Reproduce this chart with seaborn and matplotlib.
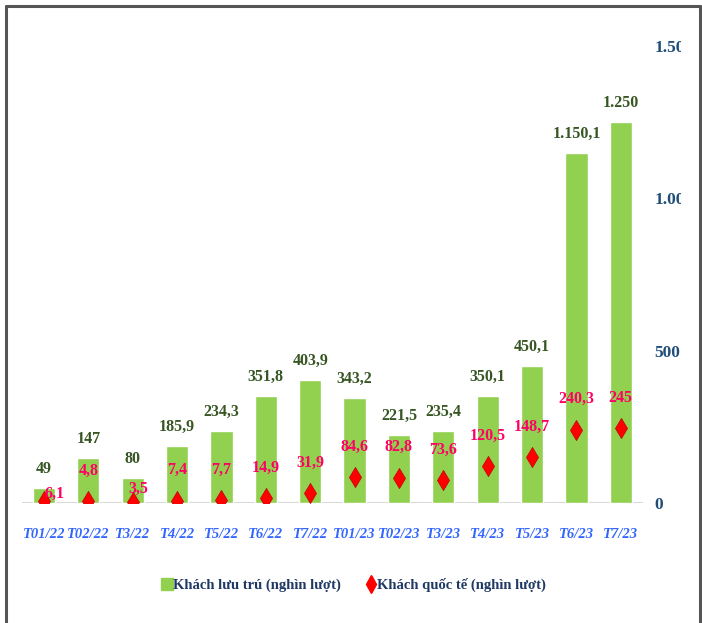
#!/usr/bin/env python3
"""
Khách lưu trú vs khách quốc tế theo tháng (nghìn lượt).
"""
import numpy as np
import pandas as pd
import matplotlib.pyplot as plt
import seaborn as sns
from matplotlib.lines import Line2D
from matplotlib.transforms import Bbox, TransformedBbox

months = ['T01/22', 'T02/22', 'T3/22', 'T4/22', 'T5/22', 'T6/22', 'T7/22',
          'T01/23', 'T02/23', 'T3/23', 'T4/23', 'T5/23', 'T6/23', 'T7/23']
luu_tru = [49, 147, 80, 185.9, 234.3, 351.8, 403.9,
           343.2, 221.5, 235.4, 350.1, 450.1, 1150.1, 1250]
quoc_te = [6.1, 4.8, 3.5, 7.4, 7.7, 14.9, 31.9,
           84.6, 82.8, 73.6, 120.5, 148.7, 240.3, 245]
yticks = [0, 500, 1000, 1500]


def vn(v):
    """Vietnamese number format: 1.150,1"""
    if float(v).is_integer():
        s = f"{int(v):,}".replace(',', '.')
    else:
        s = f"{v:,.1f}".replace(',', 'X').replace('.', ',').replace('X', '.')
    return s


def main():
    sns.set_theme(style='white')
    plt.rcParams['font.family'] = ['Liberation Serif', 'DejaVu Serif']

    df = pd.DataFrame({'thang': months, 'luu_tru': luu_tru, 'quoc_te': quoc_te})

    fig = plt.figure(figsize=(7.02, 6.23), dpi=100)
    ax = fig.add_axes([0.031, 0.193, 0.885, 0.733])

    GREEN = '#92D050'
    sns.barplot(data=df, x='thang', y='luu_tru', color=GREEN, width=0.5,
                saturation=1, ax=ax, zorder=2)
    sns.scatterplot(data=df, x='thang', y='quoc_te', marker='d', s=105,
                    color='#FF0000', edgecolor='#C00000', linewidth=0.5,
                    ax=ax, zorder=3)

    ax.set_xlim(-0.5, len(months) - 0.5)
    ax.set_ylim(0, 1500)
    ax.set_xlabel('')
    ax.set_ylabel('')
    sns.despine(ax=ax, left=True, right=True, top=True, bottom=True)
    ax.axhline(0, color='#D9D9D9', lw=2.2, zorder=1)

    # right axis ticks
    ax.yaxis.tick_right()
    ax.set_yticks(yticks)
    ax.set_yticklabels([vn(v) for v in yticks], fontsize=12.5, fontweight='bold',
                       color='#1F4E79', ha='left')
    ax.tick_params(axis='y', length=0, pad=8)
    ax.tick_params(axis='x', length=0, pad=18.5)
    for t in ax.get_xticklabels():
        t.set_fontstyle('italic')
        t.set_fontweight('bold')
        t.set_fontsize(10.5)
        t.set_color('#3366FF')

    # clip the right tick labels at the frame edge like the source
    clip = TransformedBbox(Bbox([[0, 0], [681 / 702, 1]]), fig.transFigure)
    for t in ax.get_yticklabels():
        t.set_clip_box(clip)
        t.set_clip_on(True)

    # value labels
    for i, (b, q) in enumerate(zip(luu_tru, quoc_te)):
        ax.annotate(vn(b), (i, b), xytext=(0, 8), textcoords='offset points',
                    ha='center', va='bottom', fontsize=11.5, fontweight='bold',
                    color='#375623', zorder=4)
        dx, dy = 0, 22
        if i == 0:
            dx, dy = 8, 5
        elif i == 2:
            dx, dy = 4, 9
        ax.annotate(vn(q), (i, q), xytext=(dx, dy), textcoords='offset points',
                    ha='center', va='center', fontsize=11.5, fontweight='bold',
                    color='#FF0066', zorder=4)

    # legend
    handles = [
        Line2D([], [], marker='s', linestyle='', color=GREEN, markersize=8,
               label='Khách lưu trú (nghìn lượt)'),
        Line2D([], [], marker='d', linestyle='', color='#FF0000', markersize=9,
               label='Khách quốc tế (nghìn lượt)'),
    ]
    leg = fig.legend(handles=handles, loc='center', bbox_to_anchor=(0.505, 0.061),
                     ncol=2, frameon=False, handlelength=0.5, handletextpad=0.15,
                     columnspacing=1.8, prop={'weight': 'bold', 'size': 10.5})
    for t in leg.get_texts():
        t.set_color('#1F3864')

    # frame around figure (top, left, right)
    fc = '#555555'
    fig.add_artist(Line2D([6 / 702, 6 / 702], [0, 1 - 6 / 623], color=fc, lw=2.2,
                          transform=fig.transFigure))
    fig.add_artist(Line2D([700 / 702, 700 / 702], [0, 1 - 6 / 623], color=fc, lw=2.2,
                          transform=fig.transFigure))
    fig.add_artist(Line2D([6 / 702, 700 / 702], [1 - 6 / 623, 1 - 6 / 623], color=fc,
                          lw=2.2, transform=fig.transFigure))

    fig.savefig('out.png', dpi=100)
    plt.close(fig)


if __name__ == '__main__':
    main()
